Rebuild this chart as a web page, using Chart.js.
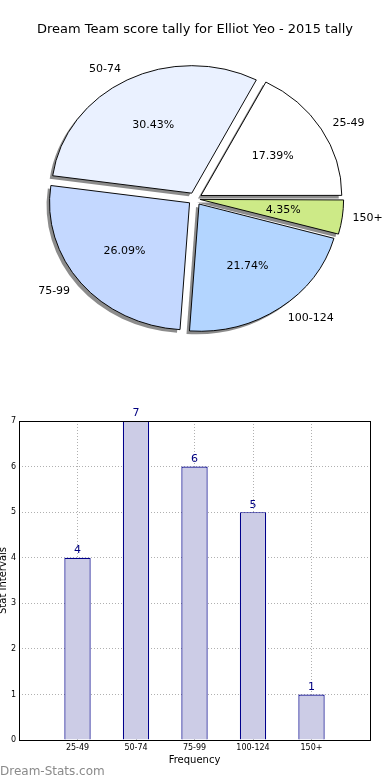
<!DOCTYPE html>
<html>
<head>
<meta charset="utf-8">
<script src="https://cdn.jsdelivr.net/npm/chart.js@4.4.1/dist/chart.umd.min.js"></script>
<style>
  html, body { margin: 0; padding: 0; background: #fff; overflow: hidden; }
  body { width: 390px; height: 780px; position: relative; font-family: 'DejaVu Sans', sans-serif; }
  #pieBox { position: absolute; left: 0; top: 0; width: 390px; height: 390px; }
  #barBox { position: absolute; left: -5px; top: 400px; width: 395px; height: 380px; }
  #mark { position: absolute; left: 0; top: 764px; font-size: 12px; color: #8a8a8a; }
</style>
</head>
<body>
<div id="pieBox"><canvas id="pieChart"></canvas></div>
<div id="barBox"><canvas id="barChart"></canvas></div>
<div id="mark">Dream-Stats.com</div>
<script>
// data
const categories = ['25-49', '50-74', '75-99', '100-124', '150+'];
const counts = [4, 7, 6, 5, 1];
const yTicks = [0, 1, 2, 3, 4, 5, 6, 7];

// styles
const sliceColors = ['#ffffff', '#eaf1ff', '#c4d8ff', '#b3d5ff', '#cdea87'];
const sliceOffsets = [28, 28, 28, 28, 20];
const squash = 0.908;
const font = 'DejaVu Sans';

Chart.defaults.font.family = font;
Chart.defaults.color = '#000';

// matplotlib goes counter-clockwise from 3 o'clock, chart.js clockwise -> reverse
const pieLabels = categories.slice().reverse();
const pieValues = counts.slice().reverse();
const pieColors = sliceColors.slice().reverse();
const pieOff = sliceOffsets.slice().reverse();
const total = counts.reduce((a, b) => a + b, 0);

// squash the pie into an ellipse and give the fills a drop shadow (no shadow on strokes)
const pieLook = {
    id: 'pieLook',
    beforeDatasetsDraw(chart) {
        const arc = chart.getDatasetMeta(0).data[0];
        const ctx = chart.ctx;
        ctx.save();
        ctx.translate(arc.x, arc.y);
        ctx.scale(1, squash);
        ctx.translate(-arc.x, -arc.y);
        ctx.shadowColor = 'rgba(0,0,0,0.45)';
        ctx.shadowOffsetX = -3;
        ctx.shadowOffsetY = 3;
        ctx.shadowBlur = 0;
        const stroke = CanvasRenderingContext2D.prototype.stroke;
        ctx.stroke = function () {
            const c = this.shadowColor;
            this.shadowColor = 'rgba(0,0,0,0)';
            stroke.apply(this, arguments);
            this.shadowColor = c;
        };
    },
    afterDatasetsDraw(chart) {
        const ctx = chart.ctx;
        delete ctx.stroke;
        ctx.restore();
        const meta = chart.getDatasetMeta(0);
        ctx.save();
        ctx.font = '11px "' + font + '"';
        ctx.fillStyle = '#000';
        ctx.textBaseline = 'middle';
        meta.data.forEach((arc, i) => {
            const mid = (arc.startAngle + arc.endAngle) / 2;
            const t = pieOff[i] / 4;
            const r = arc.outerRadius;
            const dx = Math.cos(mid), dy = Math.sin(mid);
            const lx = arc.x + dx * (t + 1.1 * r);
            const ly = arc.y + dy * (t + 1.1 * r) * squash;
            ctx.textAlign = dx > 0 ? 'left' : 'right';
            ctx.fillText(pieLabels[i], lx, ly);
            const px = arc.x + dx * (t + 0.6 * r);
            const py = arc.y + dy * (t + 0.6 * r) * squash;
            ctx.textAlign = 'center';
            ctx.fillText((pieValues[i] / total * 100).toFixed(2) + '%', px, py);
        });
        ctx.restore();
    }
};

new Chart(document.getElementById('pieChart'), {
    type: 'pie',
    data: {
        labels: pieLabels,
        datasets: [{
            data: pieValues,
            backgroundColor: pieColors,
            borderColor: '#000',
            borderWidth: 1,
            offset: pieOff
        }]
    },
    options: {
        responsive: true,
        maintainAspectRatio: false,
        animation: false,
        rotation: 90,
        radius: 140,
        layout: { padding: { top: 0, bottom: 40, left: 0, right: 0 } },
        plugins: {
            legend: { display: false },
            tooltip: { enabled: false },
            title: {
                display: true,
                text: 'Dream Team score tally for Elliot Yeo - 2015 tally',
                color: '#000',
                font: { size: 13, weight: 'normal' },
                padding: { top: 22, bottom: 10 }
            }
        }
    },
    plugins: [pieLook]
});

// bar chart: one empty slot each side, like the reference x range
const xLabels = [''].concat(categories, ['']);
const barValues = [null].concat(counts, [null]);

const barLook = {
    id: 'barLook',
    afterDraw(chart) {
        const ctx = chart.ctx;
        const a = chart.chartArea;
        ctx.save();
        ctx.strokeStyle = '#000';
        ctx.lineWidth = 1;
        ctx.strokeRect(Math.round(a.left) + 0.5, Math.round(a.top) + 0.5,
            Math.round(a.right - a.left), Math.round(a.bottom - a.top));
        ctx.font = '11px "' + font + '"';
        ctx.fillStyle = '#000080';
        ctx.textAlign = 'center';
        ctx.textBaseline = 'bottom';
        chart.getDatasetMeta(0).data.forEach((bar, i) => {
            const v = barValues[i];
            if (v == null) return;
            ctx.fillText(String(v), bar.x, bar.y - 2);
        });
        ctx.restore();
    }
};

new Chart(document.getElementById('barChart'), {
    type: 'bar',
    data: {
        labels: xLabels,
        datasets: [{
            data: barValues,
            backgroundColor: '#cccce6',
            borderColor: '#00008b',
            borderWidth: 1.2,
            categoryPercentage: 1,
            barPercentage: 0.45
        }]
    },
    options: {
        responsive: true,
        maintainAspectRatio: false,
        animation: false,
        layout: { padding: { top: 21, right: 20, bottom: 0, left: 0 } },
        plugins: {
            legend: { display: false },
            tooltip: { enabled: false }
        },
        scales: {
            x: {
                offset: false,
                z: 1,
                grid: { offset: false, color: '#b0b0b0', lineWidth: 1, drawTicks: false },
                border: { display: false, dash: [1, 2] },
                ticks: { font: { size: 8 }, color: '#000', padding: 3, autoSkip: false, maxRotation: 0 },
                title: { display: true, text: 'Frequency', font: { size: 10 }, color: '#000', padding: { top: 0, bottom: 14 } },
                afterFit(scale) { scale.height = 40; }
            },
            y: {
                min: yTicks[0],
                max: yTicks[yTicks.length - 1],
                z: 1,
                grid: { color: '#b0b0b0', lineWidth: 1, drawTicks: false },
                border: { display: false, dash: [1, 2] },
                ticks: { stepSize: 1, font: { size: 8 }, color: '#000', padding: 3 },
                title: { display: true, text: 'Stat Intervals', font: { size: 10 }, color: '#000', padding: { top: 2, bottom: 0 } },
                afterFit(scale) { scale.width = 24; }
            }
        }
    },
    plugins: [barLook]
});
</script>
</body>
</html>
